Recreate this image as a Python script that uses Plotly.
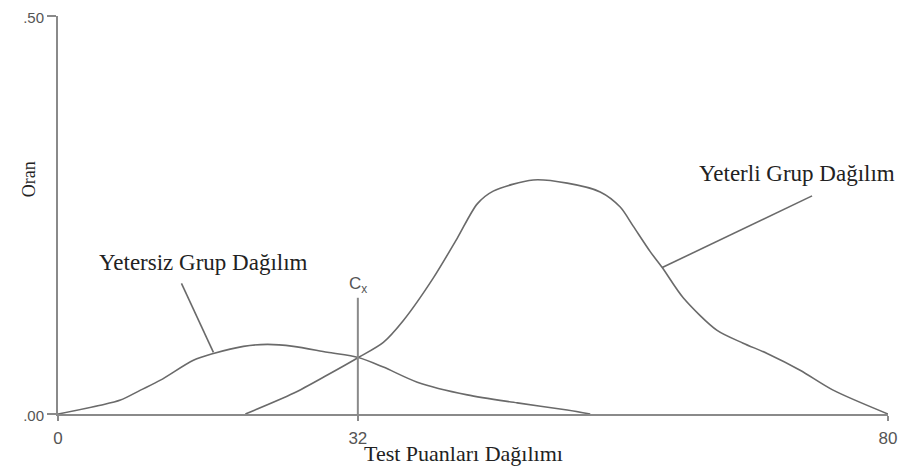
import plotly.graph_objects as go

# Yetersiz (insufficient) group distribution
low_x = [0, 4.09, 6.02, 7.95, 9.87, 13.05, 14.98, 17.87, 20.18, 22.69, 25.96, 28.95, 31.36, 34.63, 39.45, 44.27, 49.08, 51.30]
low_y = [0, 0.011, 0.0175, 0.03, 0.0425, 0.0675, 0.076, 0.085, 0.0875, 0.085, 0.0775, 0.071, 0.059, 0.04, 0.024, 0.014, 0.005, 0]

# Yeterli (sufficient) group distribution
high_x = [18.06, 22.69, 25.96, 28.95, 31.36, 33.29, 36.18, 38.49, 40.41, 41.95, 45.81, 49.08, 52.26, 54.19, 55.44, 57.08, 58.24, 60.26, 63.53, 66.04, 68.35, 71.53, 74.71, 80]
high_y = [0, 0.026, 0.049, 0.071, 0.09, 0.1175, 0.171, 0.221, 0.264, 0.28, 0.294, 0.29, 0.279, 0.26, 0.236, 0.204, 0.184, 0.146, 0.105, 0.089, 0.076, 0.055, 0.03, 0]

# Cut score line
cut_x = [28.9, 28.9]
cut_y = [0, 0.146]

# Leader lines for labels
low_leader_x = [11.9, 14.98]
low_leader_y = [0.164, 0.0775]
high_leader_x = [72.68, 58.24]
high_leader_y = [0.274, 0.184]

x_tick_vals = [0, 28.9, 80]
x_tick_text = ["0", "32", "80"]
y_tick_vals = [0, 0.5]
y_tick_text = [".00", ".50"]

curve_color = "#6a6a6a"
axis_color = "#8a8a8a"

fig = go.Figure()
for xs, ys in [(low_x, low_y), (high_x, high_y)]:
    fig.add_trace(go.Scatter(x=xs, y=ys, mode="lines",
                             line=dict(color=curve_color, width=1.6, shape="spline", smoothing=0.8),
                             cliponaxis=False, hoverinfo="skip"))
for xs, ys in [(low_leader_x, low_leader_y), (high_leader_x, high_leader_y)]:
    fig.add_trace(go.Scatter(x=xs, y=ys, mode="lines",
                             line=dict(color=curve_color, width=1.6),
                             cliponaxis=False, hoverinfo="skip"))
fig.add_trace(go.Scatter(x=cut_x, y=cut_y, mode="lines",
                         line=dict(color=axis_color, width=2),
                         cliponaxis=False, hoverinfo="skip"))

serif = "Liberation Serif"
sans = "Liberation Sans"

fig.add_annotation(x=14.02, y=0.19, text="Yetersiz Grup Dağılım", showarrow=False,
                   font=dict(family=serif, size=23, color="#222"), xanchor="center", yanchor="middle")
fig.add_annotation(x=71.24, y=0.3025, text="Yeterli Grup Dağılım", showarrow=False,
                   font=dict(family=serif, size=23, color="#222"), xanchor="center", yanchor="middle")
fig.add_annotation(x=28.9, y=0.162, text="C<sub>x</sub>", showarrow=False,
                   font=dict(family=sans, size=17, color="#555"), xanchor="center", yanchor="middle")
fig.add_annotation(x=39.06, y=0, yshift=-39, text="Test Puanları Dağılımı", showarrow=False,
                   font=dict(family=serif, size=22, color="#222"), xanchor="center", yanchor="middle")
fig.add_annotation(xref="paper", x=0, xshift=-29, y=0.295, text="Oran", showarrow=False, textangle=-90,
                   font=dict(family=serif, size=18, color="#222"), xanchor="center", yanchor="middle")

fig.update_layout(
    width=906, height=462,
    margin=dict(l=50, r=26, t=8, b=56, autoexpand=False),
    paper_bgcolor="white", plot_bgcolor="white",
    showlegend=False,
)
fig.update_xaxes(range=[0, 80], showgrid=False, zeroline=False, automargin=False,
                 showline=True, linecolor=axis_color, linewidth=2,
                 ticks="outside", ticklen=5, tickwidth=2, tickcolor=axis_color,
                 tickvals=x_tick_vals, ticktext=x_tick_text,
                 tickfont=dict(family=sans, size=17, color="#555"), ticklabelstandoff=3)
fig.update_yaxes(range=[0, 0.5], showgrid=False, zeroline=False, automargin=False,
                 showline=True, linecolor=axis_color, linewidth=2,
                 ticks="outside", ticklen=9, tickwidth=2, tickcolor=axis_color,
                 tickvals=y_tick_vals, ticktext=y_tick_text, ticklabeloverflow="allow",
                 ticklabelshift=2,
                 tickfont=dict(family=sans, size=15, color="#555"))

fig.write_html("out.html")
